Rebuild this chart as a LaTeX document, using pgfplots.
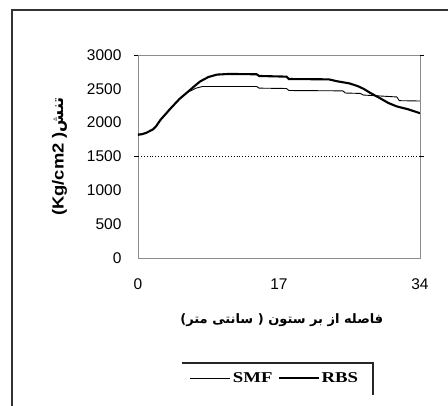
\documentclass[border=0pt]{standalone}
\usepackage{fontspec}
\setmainfont{Liberation Sans}
\newfontfamily\serifb{Liberation Serif}
\newfontfamily\arabicfont[Script=Arabic]{DejaVu Sans}
\usepackage{graphicx}
\usepackage{pgfplots}
\pgfplotsset{compat=1.18}
\TeXXeTstate=1
\begin{document}
\begin{tikzpicture}[x=1pt,y=1pt]
\path[use as bounding box] (0,0) rectangle (448,406);
\draw[line width=1.3pt, black!80] (12,0) -- (12,396) -- (448,396);
\draw[line width=1.2pt, black!85] (182,43) -- (373,43) -- (373,11);
\begin{axis}[
  at={(138pt,148pt)}, anchor=south west,
  scale only axis, width=282pt, height=203pt,
  xmin=0, xmax=34, ymin=0, ymax=3000,
  xtick={0,17,34}, ytick={0,500,1000,1500,2000,2500,3000},
  axis line style={black!45, line width=0.9pt},
  major tick length=0pt,
  extra y ticks={1500,3000}, extra y tick labels={},
  extra y tick style={major tick length=4pt, tick style={black, line width=0.8pt}, tick align=outside},
  /pgf/number format/assume math mode=true,
  /pgf/number format/set thousands separator={},
  tick label style={font=\fontsize{15.5}{17}\selectfont},
  xticklabel style={yshift=-17pt},
  yticklabel style={xshift=-13pt},
  ylabel={\bfseries\fontsize{16}{18}\selectfont \scalebox{1.15}[1]{(Kg/cm2 )}{\arabicfont\beginR تنش\endR}},
  ylabel style={at={(axis description cs:-0.277,0.5)}, anchor=center, rotate=0},
  xlabel={\arabicfont\bfseries\fontsize{13}{15}\selectfont\beginR فاصله از بر ستون ( سانتی متر)\endR},
  xlabel style={at={(axis description cs:0.51,-0.305)}, anchor=center},
  legend columns=2,
  legend style={at={(axis description cs:0.486,-0.591)}, anchor=center, draw=none, fill=none,
    font=\serifb\bfseries\fontsize{15}{17}\selectfont,
    /tikz/every even column/.append style={column sep=3pt}},
  legend image code/.code={\draw[#1] (0pt,0pt) -- (40pt,0pt);},
]
\addplot[black, line width=0.9pt] coordinates {
(0,1830) (0.5,1835) (1,1850) (1.8,1900) (2.2,1950) (2.7,2040) (4,2220) (5,2350) (6,2450) (7,2510) (7.8,2535)
(14.3,2535) (14.6,2510) (17.9,2505) (18.2,2475) (24.7,2470) (25,2438) (26.8,2432) (27.2,2408)
(31.2,2380) (31.5,2325) (34,2320)};
\addlegendentry{\scalebox{1.25}[1]{SMF}}
\addplot[black, line width=2.1pt] coordinates {
(0,1820) (0.5,1830) (1,1850) (1.8,1900) (2.2,1950) (2.7,2040) (4,2220) (5,2350) (6,2455) (7,2560) (7.5,2610)
(8.5,2675) (9.5,2710) (11,2720) (14.3,2715) (14.6,2690) (17.9,2680) (18.2,2645) (23,2640) (24,2612)
(25.5,2580) (26.5,2540) (27.2,2500) (28,2440) (29.2,2360) (30.2,2290) (31.2,2240) (32.5,2200) (34,2140)};
\addlegendentry{\scalebox{1.25}[1]{RBS}}
\addplot[black, dotted, line width=0.9pt, forget plot] coordinates {(0,1500) (34,1500)};
\end{axis}
\end{tikzpicture}
\end{document}
